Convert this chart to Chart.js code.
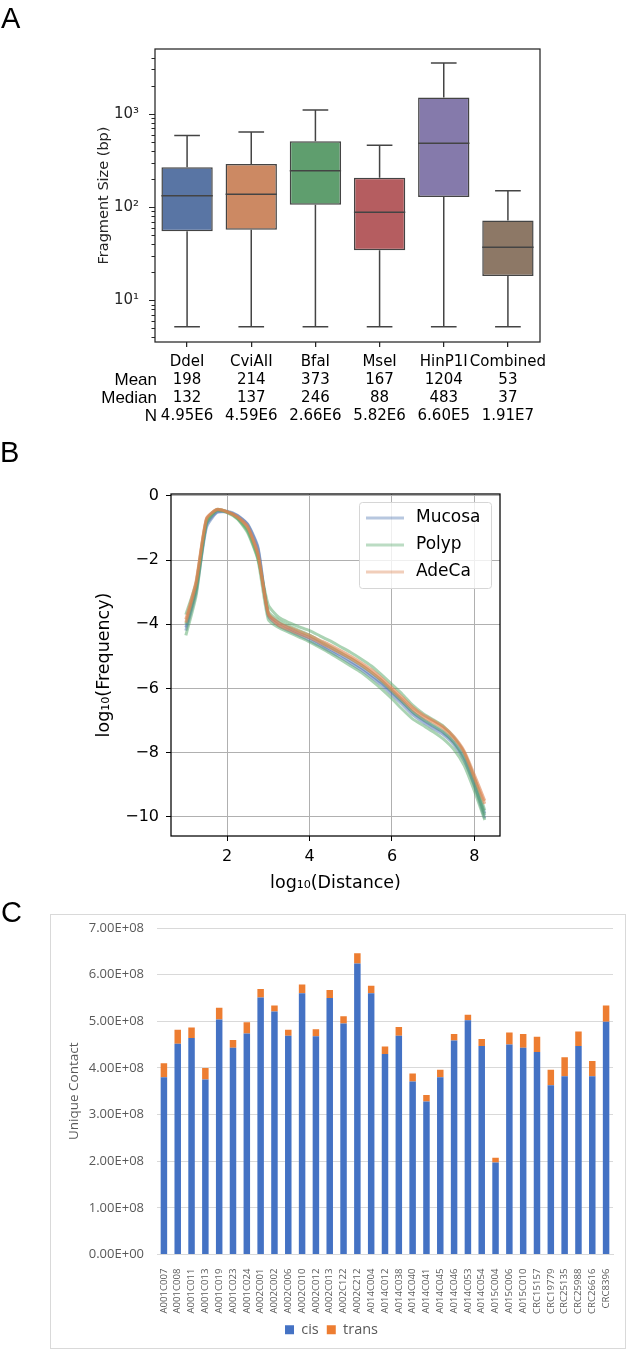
<!DOCTYPE html>
<html>
<head>
<meta charset="utf-8">
<script src="https://cdn.jsdelivr.net/npm/chart.js@4.4.1/dist/chart.umd.min.js"></script>
<style>
  body { margin: 0; background: #fff; width: 630px; height: 1353px; position: relative; overflow: hidden; }
  .panel { position: absolute; left: 0; width: 630px; }
</style>
</head>
<body>
<div class="panel" style="top:0"><canvas id="chartA" width="630" height="430"></canvas></div>
<div class="panel" style="top:430px"><canvas id="chartB" width="630" height="465"></canvas></div>
<div class="panel" style="top:895px"><canvas id="chartC" width="630" height="458"></canvas></div>
<script>
// ---- panel A : fragment sizes per enzyme ----
const enzymes = ["DdeI", "CviAII", "BfaI", "MseI", "HinP1I", "Combined"];
const meanVals = ["198", "214", "373", "167", "1204", "53"];
const medianVals = ["132", "137", "246", "88", "483", "37"];
const nVals = ["4.95E6", "4.59E6", "2.66E6", "5.82E6", "6.60E5", "1.91E7"];
const rowNames = ["Mean", "Median", "N"];
const whiskerLow = [5.2, 5.2, 5.2, 5.2, 5.2, 5.2];
const q1 = [55, 57, 106, 34.5, 128, 18.2];
const median = [132, 137, 246, 88, 483, 37];
const q3 = [267, 290, 508, 207, 1496, 72];
const whiskerHigh = [585, 640, 1104, 460, 3510, 150];
const boxColors = ["#5975a4", "#cc8963", "#5f9e6e", "#b55d60", "#857aab", "#8d7866"];
const logMajor = [10, 100, 1000];

// ---- panel B : contact decay curves ----
const distance = [1.0, 1.25, 1.5, 1.75, 2.0, 2.25, 2.5, 2.75, 3.0, 3.25, 3.5, 3.75, 4.0, 4.25, 4.5,
                  4.75, 5.0, 5.25, 5.5, 5.75, 6.0, 6.25, 6.5, 6.75, 7.0, 7.25, 7.5, 7.75, 8.0, 8.25];
const mucosaA = [-4.2, -3.0, -0.98, -0.52, -0.5, -0.62, -0.9, -1.65, -3.75, -4.05, -4.2, -4.35, -4.5, -4.67, -4.85,
                 -5.03, -5.22, -5.42, -5.65, -5.9, -6.2, -6.5, -6.82, -7.05, -7.25, -7.45, -7.75, -8.25, -9.05, -10.05];
const mucosaB = [-4.1, -2.9, -0.9, -0.5, -0.48, -0.6, -0.88, -1.6, -3.7, -3.95, -4.12, -4.28, -4.42, -4.6, -4.78,
                 -4.95, -5.15, -5.35, -5.58, -5.83, -6.12, -6.42, -6.74, -6.98, -7.18, -7.38, -7.68, -8.15, -8.95, -9.9];
const polypA = [-3.7, -2.7, -0.75, -0.42, -0.5, -0.7, -1.1, -1.95, -3.4, -3.78, -3.95, -4.08, -4.2, -4.36, -4.52,
                -4.7, -4.88, -5.08, -5.3, -5.58, -5.88, -6.18, -6.52, -6.78, -6.98, -7.18, -7.52, -8.0, -8.8, -9.8];
const polypB = [-4.35, -3.1, -0.85, -0.45, -0.52, -0.72, -1.15, -2.0, -3.85, -4.1, -4.25, -4.4, -4.55, -4.72, -4.9,
                -5.1, -5.3, -5.5, -5.75, -6.02, -6.32, -6.65, -6.95, -7.15, -7.35, -7.58, -7.9, -8.4, -9.2, -10.1];
const polypC = [-4.0, -2.85, -0.8, -0.44, -0.5, -0.68, -1.05, -1.9, -3.6, -3.88, -4.05, -4.2, -4.34, -4.52, -4.7,
                -4.88, -5.07, -5.27, -5.5, -5.77, -6.08, -6.4, -6.72, -6.95, -7.15, -7.35, -7.68, -8.2, -9.0, -9.95];
const adecaA = [-3.95, -2.72, -0.72, -0.42, -0.49, -0.65, -0.96, -1.8, -3.7, -4.03, -4.17, -4.3, -4.42, -4.57, -4.73,
                -4.9, -5.07, -5.27, -5.5, -5.75, -6.05, -6.35, -6.65, -6.88, -7.05, -7.25, -7.55, -8.0, -8.8, -9.6];
const adecaB = [-3.85, -2.65, -0.7, -0.43, -0.5, -0.66, -0.98, -1.85, -3.65, -3.95, -4.1, -4.22, -4.35, -4.5, -4.65,
                -4.82, -5.0, -5.2, -5.42, -5.68, -5.98, -6.28, -6.58, -6.82, -7.0, -7.2, -7.5, -7.95, -8.7, -9.5];
const groupNames = ["Mucosa", "Polyp", "AdeCa"];
const groupColors = ["rgba(76,114,176,0.5)", "rgba(85,168,104,0.5)", "rgba(221,132,82,0.6)"];
const legendColors = ["rgba(76,114,176,0.4)", "rgba(85,168,104,0.4)", "rgba(221,132,82,0.4)"];
const xTicksB = [2, 4, 6, 8];
const yTicksB = [0, -2, -4, -6, -8, -10];

// ---- panel C : unique contacts per sample ----
const samples = ["A001C007", "A001C008", "A001C011", "A001C013", "A001C019", "A001C023", "A001C024",
  "A002C001", "A002C002", "A002C006", "A002C010", "A002C012", "A002C013", "A002C122", "A002C212",
  "A014C004", "A014C012", "A014C038", "A014C040", "A014C041", "A014C045", "A014C046", "A014C053",
  "A014C054", "A015C004", "A015C006", "A015C010", "CRC15157", "CRC19779", "CRC25135", "CRC25988",
  "CRC26616", "CRC8396"];
const cisContacts = [3.80e8, 4.52e8, 4.64e8, 3.75e8, 5.04e8, 4.43e8, 4.74e8, 5.51e8, 5.21e8, 4.69e8, 5.60e8,
  4.68e8, 5.50e8, 4.95e8, 6.24e8, 5.60e8, 4.30e8, 4.69e8, 3.71e8, 3.28e8, 3.80e8, 4.59e8, 5.02e8, 4.47e8,
  1.975e8, 4.50e8, 4.43e8, 4.34e8, 3.63e8, 3.82e8, 4.47e8, 3.82e8, 4.99e8];
const transContacts = [0.30e8, 0.30e8, 0.225e8, 0.25e8, 0.25e8, 0.17e8, 0.24e8, 0.18e8, 0.13e8, 0.13e8, 0.19e8,
  0.15e8, 0.17e8, 0.16e8, 0.22e8, 0.16e8, 0.16e8, 0.19e8, 0.17e8, 0.14e8, 0.16e8, 0.14e8, 0.12e8, 0.15e8,
  0.10e8, 0.26e8, 0.30e8, 0.33e8, 0.33e8, 0.41e8, 0.31e8, 0.33e8, 0.35e8];

Chart.defaults.animation = false;
Chart.defaults.font.family = "'DejaVu Sans'";
Chart.defaults.color = "#000";
Chart.defaults.plugins.legend.display = false;
Chart.defaults.plugins.tooltip.enabled = false;

// big panel letters
function panelLetter(letter, x, y) {
  return {
    id: "letter" + letter,
    afterDraw(chart) {
      const ctx = chart.ctx;
      ctx.save();
      ctx.font = "29px 'Liberation Sans'";
      ctx.fillStyle = "#000";
      ctx.textBaseline = "alphabetic";
      ctx.fillText(letter, x, y);
      ctx.restore();
    },
  };
}

function frame(color, width) {
  return {
    id: "frame",
    afterDraw(chart) {
      const { ctx, chartArea: a } = chart;
      ctx.save();
      ctx.strokeStyle = color;
      ctx.lineWidth = width;
      ctx.strokeRect(a.left, a.top, a.right - a.left, a.bottom - a.top);
      ctx.restore();
    },
  };
}

//graph A
const boxWhiskers = {
  id: "boxWhiskers",
  afterDatasetsDraw(chart) {
    const { ctx, scales: { y } } = chart;
    const meta = chart.getDatasetMeta(0);
    ctx.save();
    ctx.strokeStyle = "#444";
    ctx.lineWidth = 1.5;
    meta.data.forEach((bar, i) => {
      const cx = bar.x;
      const half = bar.width / 2;
      const cap = half / 2;
      const yHi = y.getPixelForValue(whiskerHigh[i]);
      const yLo = y.getPixelForValue(whiskerLow[i]);
      const yMed = y.getPixelForValue(median[i]);
      ctx.beginPath();
      ctx.moveTo(cx, y.getPixelForValue(q3[i]));
      ctx.lineTo(cx, yHi);
      ctx.moveTo(cx - cap, yHi);
      ctx.lineTo(cx + cap, yHi);
      ctx.moveTo(cx, y.getPixelForValue(q1[i]));
      ctx.lineTo(cx, yLo);
      ctx.moveTo(cx - cap, yLo);
      ctx.lineTo(cx + cap, yLo);
      ctx.moveTo(cx - half, yMed);
      ctx.lineTo(cx + half, yMed);
      ctx.stroke();
    });
    ctx.restore();
  },
};

const logTickMarks = {
  id: "logTickMarks",
  afterDraw(chart) {
    const { ctx, scales: { y }, chartArea: a } = chart;
    ctx.save();
    ctx.strokeStyle = "#262626";
    ctx.lineWidth = 1;
    for (let d = 1; d <= 1000; d *= 10) {
      for (let m = 1; m < 10; m++) {
        const v = d * m;
        if (v < y.min || v > y.max) continue;
        const len = m === 1 ? 6 : 3.5;
        const py = Math.round(y.getPixelForValue(v)) + 0.5;
        ctx.beginPath();
        ctx.moveTo(a.left - len, py);
        ctx.lineTo(a.left, py);
        ctx.stroke();
      }
    }
    ctx.restore();
  },
};

const rowHeaders = {
  id: "rowHeaders",
  afterDraw(chart) {
    const x = chart.scales.x;
    const ctx = chart.ctx;
    ctx.save();
    ctx.font = "17px 'Liberation Sans'";
    ctx.textAlign = "right";
    ctx.textBaseline = "middle";
    ctx.fillStyle = "#000";
    rowNames.forEach((name, i) => {
      ctx.fillText(name, 157, x.top + 5 + 6 + 9 + (i + 1) * 18);
    });
    ctx.restore();
  },
};

const supers = { 1: "\u00b9", 2: "\u00b2", 3: "\u00b3" };
new Chart(document.getElementById("chartA"), {
  type: "bar",
  data: {
    labels: enzymes.map((e, i) => [e, meanVals[i], medianVals[i], nVals[i]]),
    datasets: [
      {
        data: enzymes.map((e, i) => [q1[i], q3[i]]),
        backgroundColor: boxColors,
        borderColor: "#444",
        borderWidth: 1.5,
        borderSkipped: false,
        barPercentage: 0.8,
        categoryPercentage: 1,
      },
    ],
  },
  options: {
    responsive: false,
    layout: { padding: { left: 0, right: 90, top: 49, bottom: 0 } },
    scales: {
      x: {
        grid: { drawOnChartArea: false, offset: false, tickLength: 5, color: "#262626", lineWidth: 1.25 },
        border: { display: false },
        ticks: { font: { size: 15, lineHeight: 1.2 }, padding: 6, color: "#000", maxRotation: 0, minRotation: 0, autoSkip: false },
        afterFit(s) { s.height = 88; },
      },
      y: {
        type: "logarithmic",
        min: 3.57,
        max: 4970,
        grid: { display: false },
        border: { display: false },
        ticks: {
          font: { size: 15 },
          color: "#262626",
          padding: 8,
          callback: (v) => "10" + supers[Math.round(Math.log10(v))],
        },
        afterBuildTicks(s) { s.ticks = logMajor.map((v) => ({ value: v })); },
        afterFit(s) { s.width = 155; },
        title: { display: true, text: "Fragment Size (bp)", font: { size: 14.5 }, color: "#262626", padding: { top: 95.8, bottom: 0 } },
      },
    },
  },
  plugins: [boxWhiskers, logTickMarks, rowHeaders, frame("#262626", 1.25), panelLetter("A", 1, 28)],
});

//graph B
function minusFmt(v) {
  return v < 0 ? "\u2212" + Math.abs(v) : String(v);
}
const curvesB = [
  { group: 0, ys: mucosaA }, { group: 0, ys: mucosaB },
  { group: 1, ys: polypA }, { group: 1, ys: polypB }, { group: 1, ys: polypC },
  { group: 2, ys: adecaA }, { group: 2, ys: adecaB },
];

const legendB = {
  id: "legendB",
  afterDraw(chart) {
    const { ctx, chartArea: a } = chart;
    const x0 = a.right - 141, y0 = a.top + 8, w = 132, h = 86;
    ctx.save();
    ctx.fillStyle = "rgba(255,255,255,0.8)";
    ctx.strokeStyle = "#d6d6d6";
    ctx.lineWidth = 1;
    ctx.beginPath();
    ctx.roundRect(x0 + 0.5, y0 + 0.5, w, h, 3);
    ctx.fill();
    ctx.stroke();
    ctx.font = "17px 'DejaVu Sans'";
    ctx.textBaseline = "middle";
    groupNames.forEach((name, i) => {
      const ly = y0 + 16 + i * 27;
      ctx.strokeStyle = legendColors[i];
      ctx.lineWidth = 3;
      ctx.beginPath();
      ctx.moveTo(x0 + 7, ly);
      ctx.lineTo(x0 + 45, ly);
      ctx.stroke();
      ctx.fillStyle = "#000";
      ctx.fillText(name, x0 + 57, ly);
    });
    ctx.restore();
  },
};

new Chart(document.getElementById("chartB"), {
  type: "line",
  data: {
    datasets: curvesB.map((c) => ({
      label: groupNames[c.group],
      data: distance.map((x, i) => ({ x: x, y: c.ys[i] })),
      borderColor: groupColors[c.group],
      borderWidth: 3,
      pointRadius: 0,
      tension: 0.2,
      fill: false,
      order: 2 - c.group,
    })),
  },
  options: {
    responsive: false,
    layout: { padding: { left: 0, right: 130, top: 64, bottom: 0 } },
    scales: {
      x: {
        type: "linear",
        min: 0.64,
        max: 8.62,
        grid: { color: "#b0b0b0", lineWidth: 1, tickLength: 5, tickColor: "#000" },
        border: { display: false },
        ticks: { font: { size: 16 }, padding: 6, callback: minusFmt },
        afterBuildTicks(s) { s.ticks = xTicksB.map((v) => ({ value: v })); },
        title: { display: true, text: "log\u2081\u2080(Distance)", font: { size: 17.5 }, padding: { top: 0, bottom: 1.5 } },
        afterFit(s) { s.height = 59; },
      },
      y: {
        type: "linear",
        min: -10.6,
        max: 0.06,
        grid: { color: "#b0b0b0", lineWidth: 1, tickLength: 5, tickColor: "#000" },
        border: { display: false },
        ticks: { font: { size: 16 }, padding: 7, callback: minusFmt },
        afterBuildTicks(s) { s.ticks = yTicksB.map((v) => ({ value: v })); },
        title: { display: true, text: "log\u2081\u2080(Frequency)", font: { size: 17.5 }, padding: { top: 93.5, bottom: 0 } },
        afterFit(s) { s.width = 171; },
      },
    },
  },
  plugins: [frame("#000", 1.25), legendB, panelLetter("B", 0, 32)],
});

//graph C
function excelSci(v) {
  if (v === 0) return "0.00E+00";
  const exp = Math.floor(Math.log10(v) + 1e-9);
  const mant = v / Math.pow(10, exp);
  return mant.toFixed(2) + "E+" + String(exp).padStart(2, "0");
}

const outerBorder = {
  id: "outerBorder",
  beforeDraw(chart) {
    const ctx = chart.ctx;
    ctx.save();
    ctx.strokeStyle = "#d9d9d9";
    ctx.lineWidth = 1;
    ctx.strokeRect(50.5, 19.5, 575, 434);
    ctx.restore();
  },
};

new Chart(document.getElementById("chartC"), {
  type: "bar",
  data: {
    labels: samples,
    datasets: [
      { label: "cis", data: cisContacts, backgroundColor: "#4472c4", barPercentage: 0.47, categoryPercentage: 1 },
      { label: "trans", data: transContacts, backgroundColor: "#ed7d31", barPercentage: 0.47, categoryPercentage: 1 },
    ],
  },
  options: {
    responsive: false,
    layout: { padding: { left: 50, right: 17, top: 33, bottom: 6 } },
    plugins: {
      legend: {
        display: true,
        position: "bottom",
        labels: { boxWidth: 9, boxHeight: 9, padding: 8, color: "#595959", font: { size: 14.5, family: "'Open Sans'" } },
      },
    },
    scales: {
      x: {
        stacked: true,
        grid: { display: false },
        border: { display: true, color: "#d9d9d9" },
        ticks: { autoSkip: false, minRotation: 90, maxRotation: 90, padding: 6, color: "#595959", font: { size: 9.6, family: "'Open Sans'" } },
        afterFit(s) { s.height = 60; },
      },
      y: {
        stacked: true,
        min: 0,
        max: 7e8,
        grid: { color: "#d9d9d9", drawTicks: false },
        border: { display: false },
        ticks: { stepSize: 1e8, padding: 13, color: "#595959", font: { size: 13, family: "'Open Sans'" }, callback: excelSci },
        title: { display: true, text: "Unique Contact", color: "#595959", font: { size: 13.5, family: "'Open Sans'" }, padding: { top: 16, bottom: 0 } },
        afterFit(s) { s.width = 107; },
      },
    },
  },
  plugins: [outerBorder, panelLetter("C", 1, 27)],
});
</script>
</body>
</html>
